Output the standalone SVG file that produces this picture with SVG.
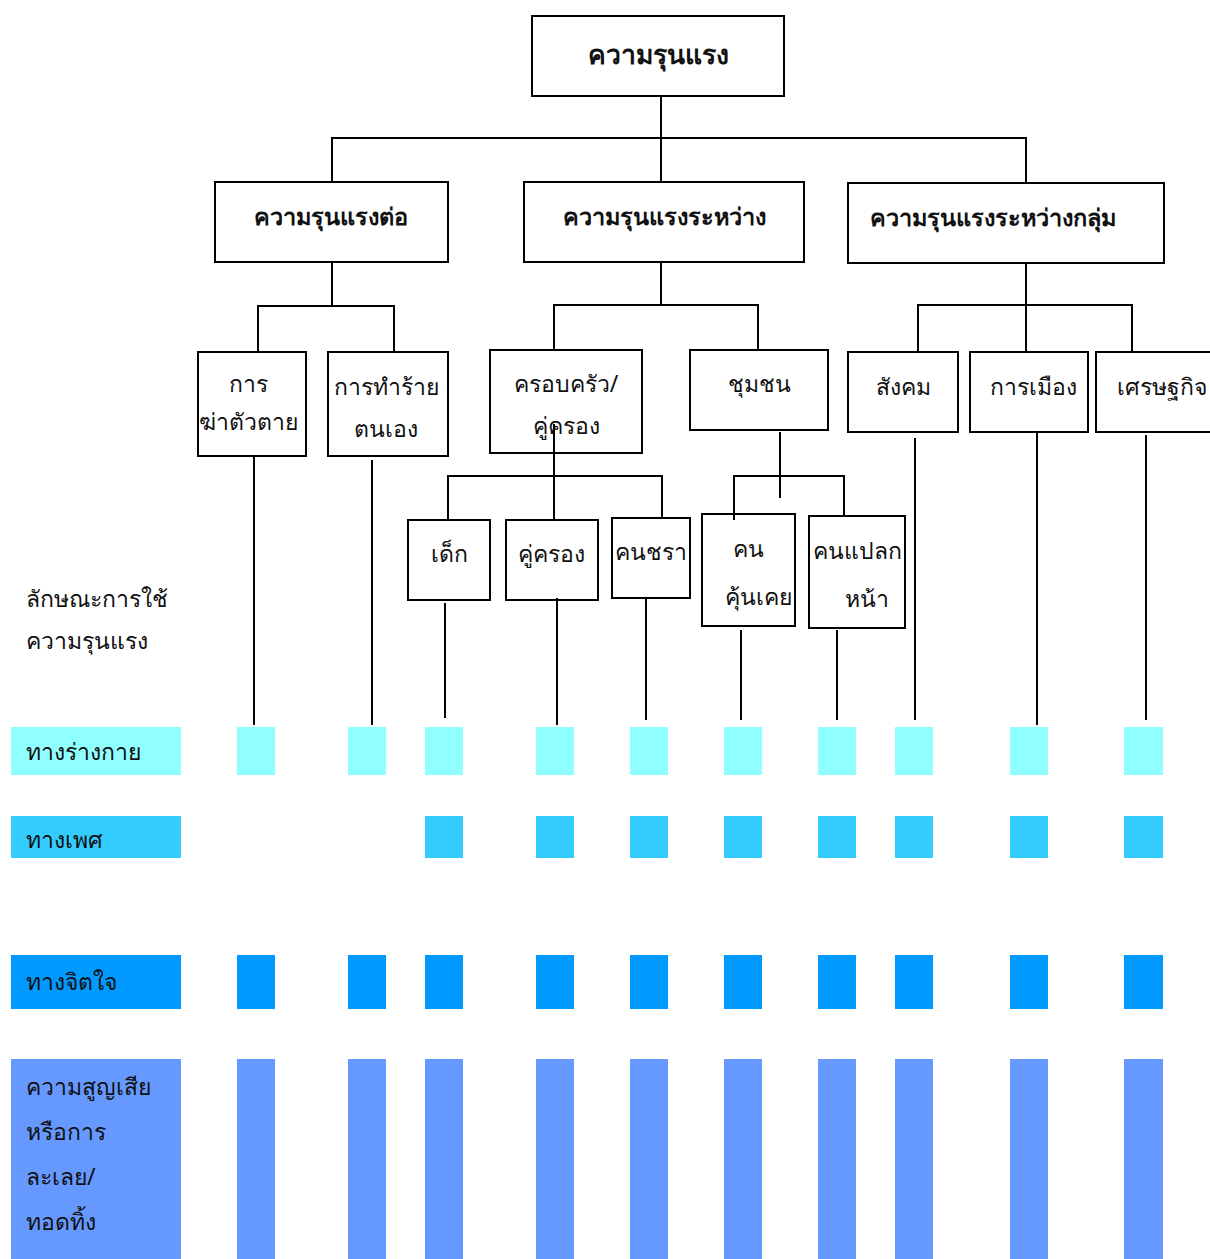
<svg xmlns="http://www.w3.org/2000/svg" width="1210" height="1259" viewBox="0 0 1210 1259">
<style>
.box{fill:#fff;stroke:#000;stroke-width:2}
.t{font-family:"Noto Sans","DejaVu Sans","Liberation Sans",sans-serif;font-size:23px;fill:#111;text-anchor:middle}
.tb{font-family:"Noto Sans","DejaVu Sans","Liberation Sans",sans-serif;font-size:23.5px;font-weight:bold;fill:#111;text-anchor:middle}
.tl{font-family:"Noto Sans","DejaVu Sans","Liberation Sans",sans-serif;font-size:23px;fill:#111}
.c line{stroke:#000;stroke-width:2}
.p{fill:#8FFFFF}.s{fill:#33CCFF}.m{fill:#0099FF}.n{fill:#6699FF}
</style>
<rect width="1210" height="1259" fill="#fff"/>
<g id="root"><rect class="box" x="532" y="16" width="252" height="80"/><text class="tb" x="658" y="64" style="font-size:26.5px">ความรุนแรง</text></g>
<g id="n-against"><rect class="box" x="215" y="182" width="233" height="80"/><text class="tb" x="331" y="225">ความรุนแรงต่อ</text></g>
<g id="n-between"><rect class="box" x="524" y="182" width="280" height="80"/><text class="tb" x="664" y="225">ความรุนแรงระหว่าง</text></g>
<g id="n-group"><rect class="box" x="848" y="183" width="316" height="80"/><text class="tb" x="993" y="226">ความรุนแรงระหว่างกลุ่ม</text></g>
<g id="n-suicide"><rect class="box" x="198" y="352" width="108" height="104"/><text class="t" x="248" y="392">การ</text><text class="t" x="248" y="430">ฆ่าตัวตาย</text></g>
<g id="n-selfharm"><rect class="box" x="328" y="352" width="120" height="104"/><text class="t" x="386" y="395">การทำร้าย</text><text class="t" x="386" y="437">ตนเอง</text></g>
<g id="n-family"><rect class="box" x="490" y="350" width="152" height="103"/><text class="t" x="566" y="392">ครอบครัว/</text><text class="t" x="566" y="434">คู่ครอง</text></g>
<g id="n-community"><rect class="box" x="690" y="350" width="138" height="80"/><text class="t" x="759" y="392">ชุมชน</text></g>
<g id="n-social"><rect class="box" x="848" y="352" width="110" height="80"/><text class="t" x="903" y="395">สังคม</text></g>
<g id="n-political"><rect class="box" x="970" y="352" width="118" height="80"/><text class="t" x="1033" y="395">การเมือง</text></g>
<g id="n-economic"><rect class="box" x="1096" y="352" width="120" height="80"/><text class="t" x="1162" y="395">เศรษฐกิจ</text></g>
<g id="n-child"><rect class="box" x="408" y="520" width="82" height="80"/><text class="t" x="449" y="562">เด็ก</text></g>
<g id="n-partner"><rect class="box" x="506" y="520" width="92" height="80"/><text class="t" x="551" y="562">คู่ครอง</text></g>
<g id="n-elder"><rect class="box" x="612" y="518" width="78" height="80"/><text class="t" x="651" y="560">คนชรา</text></g>
<g id="n-acquaint"><rect class="box" x="702" y="514" width="93" height="112"/><text class="t" x="748" y="557">คน</text><text class="t" x="758" y="605">คุ้นเคย</text></g>
<g id="n-stranger"><rect class="box" x="809" y="516" width="96" height="112"/><text class="t" x="857" y="559">คนแปลก</text><text class="t" x="867" y="607">หน้า</text></g>
<g class="c" id="connectors">
<line x1="661" y1="96" x2="661" y2="138"/>
<line x1="331" y1="138" x2="1027" y2="138"/>
<line x1="332" y1="138" x2="332" y2="182"/>
<line x1="661" y1="138" x2="661" y2="182"/>
<line x1="1026" y1="138" x2="1026" y2="183"/>
<line x1="332" y1="262" x2="332" y2="306"/>
<line x1="257" y1="306" x2="395" y2="306"/>
<line x1="258" y1="306" x2="258" y2="352"/>
<line x1="394" y1="306" x2="394" y2="352"/>
<line x1="661" y1="262" x2="661" y2="305"/>
<line x1="553" y1="305" x2="759" y2="305"/>
<line x1="554" y1="305" x2="554" y2="350"/>
<line x1="758" y1="305" x2="758" y2="350"/>
<line x1="1026" y1="263" x2="1026" y2="352"/>
<line x1="917" y1="305" x2="1133" y2="305"/>
<line x1="918" y1="305" x2="918" y2="352"/>
<line x1="1132" y1="305" x2="1132" y2="352"/>
<line x1="554" y1="424" x2="554" y2="520"/>
<line x1="447" y1="476" x2="663" y2="476"/>
<line x1="448" y1="476" x2="448" y2="520"/>
<line x1="662" y1="476" x2="662" y2="518"/>
<line x1="780" y1="432" x2="780" y2="498"/>
<line x1="733" y1="476" x2="845" y2="476"/>
<line x1="734" y1="476" x2="734" y2="520"/>
<line x1="844" y1="476" x2="844" y2="516"/>
<line x1="254" y1="456" x2="254" y2="725"/>
<line x1="372" y1="460" x2="372" y2="725"/>
<line x1="445" y1="603" x2="445" y2="718"/>
<line x1="557" y1="598" x2="557" y2="725"/>
<line x1="646" y1="598" x2="646" y2="720"/>
<line x1="741" y1="630" x2="741" y2="720"/>
<line x1="837" y1="630" x2="837" y2="720"/>
<line x1="915" y1="438" x2="915" y2="720"/>
<line x1="1037" y1="432" x2="1037" y2="725"/>
<line x1="1146" y1="435" x2="1146" y2="720"/>
</g>
<g id="legend">
<text class="tl" x="26" y="607">ลักษณะการใช้</text>
<text class="tl" x="26" y="649">ความรุนแรง</text>
<rect class="p" x="11" y="727" width="170" height="48"/><text class="tl" x="26" y="760">ทางร่างกาย</text>
<rect class="s" x="11" y="816" width="170" height="42"/><text class="tl" x="26" y="848">ทางเพศ</text>
<rect class="m" x="11" y="955" width="170" height="54"/><text class="tl" x="26" y="990">ทางจิตใจ</text>
<rect class="n" x="11" y="1059" width="170" height="200"/>
<text class="tl" x="26" y="1095">ความสูญเสีย</text>
<text class="tl" x="26" y="1140">หรือการ</text>
<text class="tl" x="26" y="1185">ละเลย/</text>
<text class="tl" x="26" y="1230">ทอดทิ้ง</text>
</g>
<g id="cells">
<g class="p">
<rect x="237" y="727" width="38" height="48"/><rect x="348" y="727" width="38" height="48"/><rect x="425" y="727" width="38" height="48"/><rect x="536" y="727" width="38" height="48"/><rect x="630" y="727" width="38" height="48"/><rect x="724" y="727" width="38" height="48"/><rect x="818" y="727" width="38" height="48"/><rect x="895" y="727" width="38" height="48"/><rect x="1010" y="727" width="38" height="48"/><rect x="1124" y="727" width="39" height="48"/>
</g>
<g class="s">
<rect x="425" y="816" width="38" height="42"/><rect x="536" y="816" width="38" height="42"/><rect x="630" y="816" width="38" height="42"/><rect x="724" y="816" width="38" height="42"/><rect x="818" y="816" width="38" height="42"/><rect x="895" y="816" width="38" height="42"/><rect x="1010" y="816" width="38" height="42"/><rect x="1124" y="816" width="39" height="42"/>
</g>
<g class="m">
<rect x="237" y="955" width="38" height="54"/><rect x="348" y="955" width="38" height="54"/><rect x="425" y="955" width="38" height="54"/><rect x="536" y="955" width="38" height="54"/><rect x="630" y="955" width="38" height="54"/><rect x="724" y="955" width="38" height="54"/><rect x="818" y="955" width="38" height="54"/><rect x="895" y="955" width="38" height="54"/><rect x="1010" y="955" width="38" height="54"/><rect x="1124" y="955" width="39" height="54"/>
</g>
<g class="n">
<rect x="237" y="1059" width="38" height="200"/><rect x="348" y="1059" width="38" height="200"/><rect x="425" y="1059" width="38" height="200"/><rect x="536" y="1059" width="38" height="200"/><rect x="630" y="1059" width="38" height="200"/><rect x="724" y="1059" width="38" height="200"/><rect x="818" y="1059" width="38" height="200"/><rect x="895" y="1059" width="38" height="200"/><rect x="1010" y="1059" width="38" height="200"/><rect x="1124" y="1059" width="39" height="200"/>
</g>
</g>
</svg>
